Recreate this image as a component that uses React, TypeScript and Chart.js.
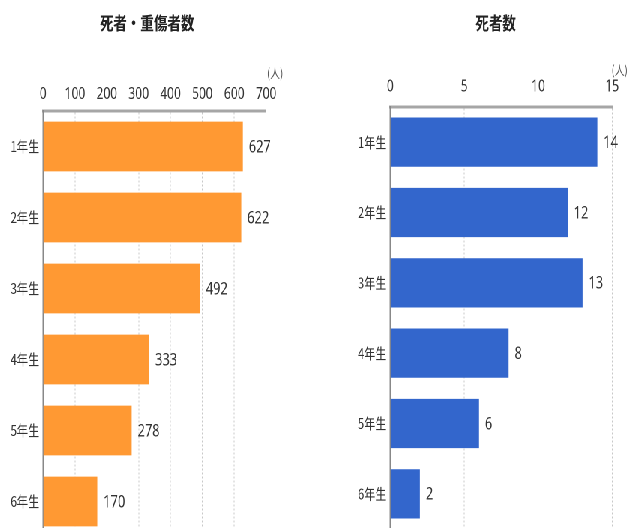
import React, { useEffect, useRef } from 'react';
import { Chart, registerables } from 'chart.js';

Chart.register(...registerables);

// ---- data ----
const categories = ['1年生', '2年生', '3年生', '4年生', '5年生', '6年生'];
const injuredValues = [627, 622, 492, 333, 278, 170];
const deathValues = [14, 12, 13, 8, 6, 2];
const injuredAxis = { min: 0, max: 700, step: 100 };
const deathAxis = { min: 0, max: 15, step: 5 };
const leftTitle = '死者・重傷者数';
const rightTitle = '死者数';
const unitLabel = '(人)';

const SX = 0.75; // horizontal compression of the whole picture
const FONT = "'Noto Sans', 'Noto Sans CJK JP', sans-serif";
const CJK = "'Noto Sans CJK JP', 'Noto Sans', sans-serif";

type Spec = {
  title: string;
  values: number[];
  axis: { min: number; max: number; step: number };
  color: string;
  width: number;
  height: number;
  yWidth: number;
  xHeight: number;
  padRight: number;
  padBottom: number;
  tickPad: number;
  titleX: number;
  titleY: number;
  unitDx: number;
  unitY: number;
};

const leftSpec: Spec = {
  title: leftTitle,
  values: injuredValues,
  axis: injuredAxis,
  color: '#FF9933',
  width: 417,
  height: 540,
  yWidth: 57.3,
  xHeight: 111,
  padRight: 62.3,
  padBottom: 3,
  tickPad: 7,
  titleX: 196,
  titleY: 23,
  unitDx: 1,
  unitY: 73,
};

const rightSpec: Spec = {
  title: rightTitle,
  values: deathValues,
  axis: deathAxis,
  color: '#3366CC',
  width: 419,
  height: 540,
  yWidth: 103.4,
  xHeight: 107,
  padRight: 17.7,
  padBottom: 11,
  tickPad: 10.5,
  titleX: 244,
  titleY: 23,
  unitDx: -1,
  unitY: 70,
};

function makeChart(canvas: HTMLCanvasElement, spec: Spec) {
  const textPlugin = {
    id: 'extraText',
    afterDatasetsDraw(chart: any) {
      const ctx = chart.ctx as CanvasRenderingContext2D;
      const area = chart.chartArea;
      ctx.save();
      // title
      ctx.fillStyle = '#222';
      ctx.font = `bold 18px ${CJK}`;
      ctx.textAlign = 'center';
      ctx.textBaseline = 'middle';
      ctx.fillText(spec.title, spec.titleX, spec.titleY);
      // unit
      ctx.fillStyle = '#555';
      ctx.font = `13px ${CJK}`;
      ctx.textAlign = 'left';
      ctx.fillText(unitLabel, area.right + spec.unitDx, spec.unitY);
      // value labels
      ctx.fillStyle = '#333';
      ctx.font = `17px ${FONT}`;
      ctx.textAlign = 'left';
      const meta = chart.getDatasetMeta(0);
      meta.data.forEach((el: any, i: number) => {
        ctx.fillText(String(spec.values[i]), el.x + 8, el.y + 1);
      });
      ctx.restore();
    },
  };

  return new Chart(canvas, {
    type: 'bar',
    data: {
      labels: categories,
      datasets: [
        {
          data: spec.values,
          backgroundColor: spec.color,
          borderWidth: 0,
          barPercentage: 0.7,
          categoryPercentage: 1,
        },
      ],
    },
    options: {
      indexAxis: 'y',
      responsive: false,
      animation: false,
      devicePixelRatio: 2,
      layout: { padding: { left: 0, top: 0, right: spec.padRight, bottom: spec.padBottom } },
      plugins: {
        legend: { display: false },
        title: { display: false },
        tooltip: { enabled: false },
      },
      scales: {
        x: {
          position: 'top',
          min: spec.axis.min,
          max: spec.axis.max,
          afterFit: (s: any) => {
            s.height = spec.xHeight;
          },
          ticks: {
            stepSize: spec.axis.step,
            padding: spec.tickPad,
            color: '#333',
            font: { family: FONT, size: 16 },
            maxRotation: 0,
          },
          grid: {
            color: '#c8c8c8',
            lineWidth: 1,
            drawTicks: false,
          },
          border: { display: true, color: '#a6a6a6', width: 3, dash: [2, 2] },
        },
        y: {
          afterFit: (s: any) => {
            s.width = spec.yWidth;
            s.paddingTop = 0;
            s.paddingBottom = 0;
          },
          ticks: {
            padding: 5,
            color: '#333',
            font: { family: CJK, size: 15 },
          },
          grid: { display: false, drawTicks: false },
          border: { display: true, color: '#888', width: 2 },
        },
      },
    },
    plugins: [textPlugin],
  } as any);
}

function ChartCanvas({ spec }: { spec: Spec }) {
  const ref = useRef<HTMLCanvasElement | null>(null);
  useEffect(() => {
    if (!ref.current) return;
    const chart = makeChart(ref.current, spec);
    return () => chart.destroy();
  }, [spec]);
  return (
    <canvas
      ref={ref}
      width={spec.width}
      height={spec.height}
      style={{ width: spec.width, height: spec.height, display: 'block' }}
    />
  );
}

export default function App() {
  return (
    <div
      style={{
        position: 'fixed',
        left: 0,
        top: 0,
        width: 627,
        height: 528,
        overflow: 'hidden',
        background: '#fff',
      }}
    >
      <div
        style={{
          position: 'absolute',
          left: 0,
          top: 0,
          width: leftSpec.width + rightSpec.width,
          height: 540,
          display: 'flex',
          transform: `scaleX(${SX})`,
          transformOrigin: '0 0',
        }}
      >
        <ChartCanvas spec={leftSpec} />
        <ChartCanvas spec={rightSpec} />
      </div>
    </div>
  );
}
